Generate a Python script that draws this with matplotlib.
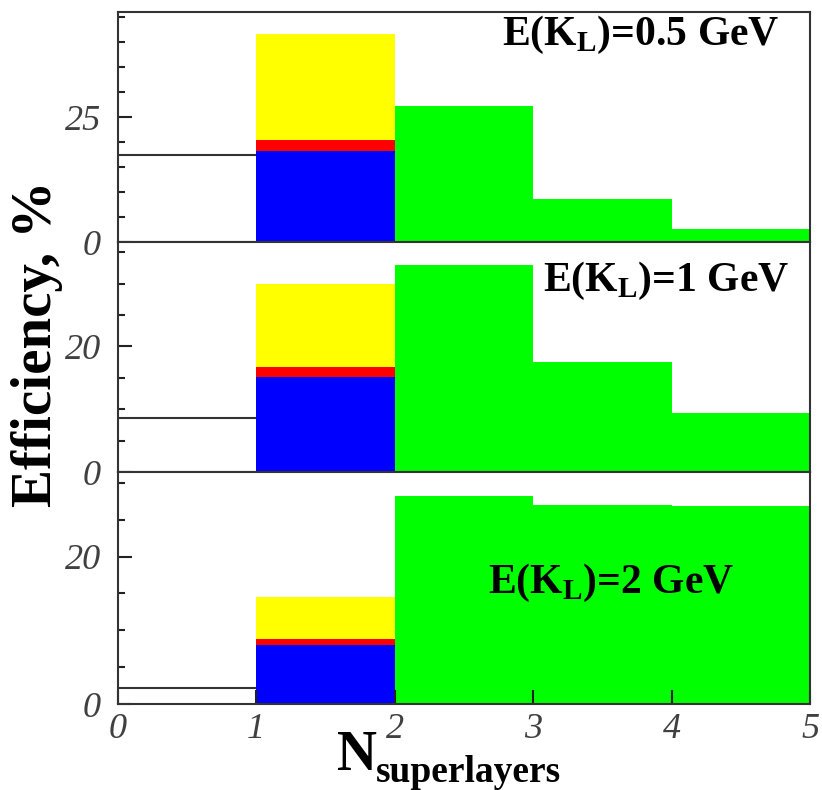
import matplotlib
matplotlib.use("Agg")
import matplotlib.pyplot as plt
from matplotlib.ticker import MultipleLocator

plt.rcParams['mathtext.fontset'] = 'custom'
plt.rcParams['mathtext.rm'] = 'Liberation Serif:bold'
plt.rcParams['mathtext.bf'] = 'Liberation Serif:bold'

# energies of the three panels (top to bottom)
energies = ["0.5", "1", "2"]

# bin 0-1: outline level of the reference histogram
ref_level = [17.5, 8.6, 2.2]

# bin 1-2: stacked components
blue = [18.2, 15.1, 8.0]
red = [2.2, 1.7, 0.9]
yellow = [21.3, 13.1, 5.6]

# bins 2-3, 3-4, 4-5: green histogram
green_bins = [2, 3, 4]
green = [
    [27.3, 8.7, 2.7],
    [33.0, 17.6, 9.4],
    [28.2, 27.0, 26.8],
]

ymax = [46, 36.6, 31.4]
major_step = [25, 20, 20]

W, H = 822, 790
fig = plt.figure(figsize=(W / 100, H / 100), dpi=100)

# panel pixel extents (top, bottom)
panels = [(12, 242), (242, 472.3), (472.3, 704.3)]
x0, x1 = 117.6, 810

tick_font = dict(family='Liberation Serif', style='italic', size=26)
axes = []
for i, (pt, pb) in enumerate(panels):
    ax = fig.add_axes([x0 / W, 1 - pb / H, (x1 - x0) / W, (pb - pt) / H])
    axes.append(ax)

    ax.bar(1, blue[i], width=1, align='edge', color='#0000ff', linewidth=0)
    ax.bar(1, red[i], bottom=blue[i], width=1, align='edge', color='#ff0000', linewidth=0)
    ax.bar(1, yellow[i], bottom=blue[i] + red[i], width=1, align='edge',
           color='#ffff00', linewidth=0)
    ax.bar(green_bins, green[i], width=1, align='edge', color='#00ff00', linewidth=0)
    ax.hlines(ref_level[i], 0, 1, color='#333333', linewidth=1.5)

    ax.set_xlim(0, 5)
    ax.set_ylim(0, ymax[i])
    ax.yaxis.set_major_locator(MultipleLocator(major_step[i]))
    ax.yaxis.set_minor_locator(MultipleLocator(5))
    ax.tick_params(axis='y', which='major', direction='in', length=10, width=1.5,
                   color='#222222', pad=12, labelcolor='#404040')
    ax.tick_params(axis='y', which='minor', direction='in', length=5, width=1.5,
                   color='#222222')
    for lab in ax.get_yticklabels():
        lab.set_fontproperties(matplotlib.font_manager.FontProperties(**tick_font))
    for s in ax.spines.values():
        s.set_color('#333333')
        s.set_linewidth(1.5)
        s.set_zorder(5)

    if i < 2:
        ax.tick_params(axis='x', which='both', bottom=False, labelbottom=False)
    else:
        ax.xaxis.set_major_locator(MultipleLocator(1))
        ax.tick_params(axis='x', direction='in', length=10, width=1.5,
                       color='#222222', pad=6, labelcolor='#404040')
        for lab in ax.get_xticklabels():
            lab.set_fontproperties(matplotlib.font_manager.FontProperties(**tick_font))

# panel labels
label_pos = [(502, 45), (543, 291), (488, 593)]
for e, (lx, ly) in zip(energies, label_pos):
    fig.text(lx / W, 1 - ly / H, r'E(K$_{\rm L}$)=' + e + ' GeV',
             family='Liberation Serif', weight='bold', size=30,
             ha='left', va='baseline')

# axis titles
fig.text(37 / W, 1 - 344 / H, 'Efficiency, %', rotation=90,
         family='Liberation Serif', weight='bold', size=41,
         ha='center', va='center')
fig.text(337 / W, 1 - 770 / H, 'N', family='Liberation Serif', weight='bold',
         size=40, ha='left', va='baseline')
fig.text(376 / W, 1 - 782 / H, 'superlayers', family='Liberation Serif',
         weight='bold', size=27, ha='left', va='baseline')

fig.savefig('out.png', dpi=100)
